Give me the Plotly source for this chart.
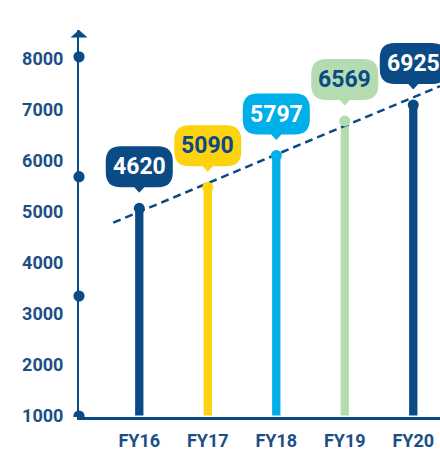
import plotly.graph_objects as go

# ---- data ----
categories = ["FY16", "FY17", "FY18", "FY19", "FY20"]
values = [4620, 5090, 5797, 6569, 6925]
bar_colors = ["#0a4a85", "#fdd20e", "#00aeea", "#b5dbb1", "#0a4a85"]
label_text_colors = ["#ffffff", "#0a4a85", "#ffffff", "#0a4a85", "#ffffff"]
axis_tick_values = [1000, 2000, 3000, 4000, 5000, 6000, 7000, 8000]
axis_dot_values = [1000, 3350, 5690, 8040]
trend_x = [-0.38, 4.39]
trend_y = [4300, 7345]

DARK = "#0a4a85"
TICK = "#1c4f86"
FONT = "Roboto, Liberation Sans, Arial, sans-serif"

idx = list(range(len(categories)))

fig = go.Figure()
fig.add_trace(go.Bar(x=idx, y=values, width=0.121, marker=dict(color=bar_colors, line=dict(width=0)),
                     hoverinfo="skip", showlegend=False))
fig.add_trace(go.Scatter(x=trend_x, y=trend_y, mode="lines",
                         line=dict(color=DARK, width=2.5, dash="8px,5px"),
                         hoverinfo="skip", showlegend=False))
fig.add_trace(go.Scatter(x=idx, y=values, mode="markers",
                         marker=dict(color=bar_colors, size=11, line=dict(width=0)),
                         hoverinfo="skip", showlegend=False))


def bubble_path(w=67, h=41, r=15, bot=21, pw=10, tip=15.5):
    L, R, B, T = -w / 2, w / 2, bot, bot + h
    return (f"M {pw/2},{B} L {R-r},{B} Q {R},{B} {R},{B+r} L {R},{T-r} Q {R},{T} {R-r},{T} "
            f"L {L+r},{T} Q {L},{T} {L},{T-r} L {L},{B+r} Q {L},{B} {L+r},{B} "
            f"L {-pw/2},{B} L 0,{tip} Z")


shapes = []
for i, v, c in zip(idx, values, bar_colors):
    shapes.append(dict(type="path", xref="x", yref="y", xsizemode="pixel", ysizemode="pixel",
                       xanchor=i, yanchor=v, path=bubble_path(), fillcolor=c,
                       line=dict(width=0), layer="above"))
# axis decorations
for d in axis_dot_values:
    shapes.append(dict(type="circle", xref="paper", yref="y2", xsizemode="pixel", ysizemode="pixel",
                       xanchor=0, yanchor=d, x0=-5.6, x1=5.6, y0=-5.6, y1=5.6,
                       fillcolor=DARK, line=dict(width=0), layer="above"))
shapes.append(dict(type="path", xref="paper", yref="paper", xsizemode="pixel", ysizemode="pixel",
                   xanchor=0, yanchor=1, path="M -8.5,-7.5 L 8.5,-7.5 L 0,0 Z",
                   fillcolor=DARK, line=dict(width=0), layer="above"))

annotations = []
for i, v, tc in zip(idx, values, label_text_colors):
    annotations.append(dict(x=i, y=v, xref="x", yref="y", text=str(v), showarrow=False,
                            yshift=41.5, font=dict(family=FONT, size=23, color=tc, weight="bold")))

fig.update_layout(
    width=440, height=452,
    margin=dict(l=79, r=0, t=30, b=35, autoexpand=False),
    paper_bgcolor="white", plot_bgcolor="white",
    shapes=shapes, annotations=annotations,
    xaxis=dict(range=[-0.88, 4.39], tickvals=idx, ticktext=categories, showgrid=False,
               zeroline=False, showline=True, linecolor=DARK, linewidth=2.5, ticks="",
               ticklabelstandoff=6, automargin=False,
               tickfont=dict(family=FONT, size=18, color=TICK, weight="bold")),
    yaxis=dict(range=[-36, 8598], visible=False, showgrid=False, zeroline=False),
    yaxis2=dict(range=[980, 8565], overlaying="y", side="left", anchor="x",
                tickvals=axis_tick_values, showgrid=False, zeroline=False,
                showline=True, linecolor=DARK, linewidth=2, ticks="",
                ticklabelstandoff=10, automargin=False,
                tickfont=dict(family=FONT, size=18, color=TICK, weight="bold")),
)
# attach an invisible trace to yaxis2 so it renders
fig.add_trace(go.Scatter(x=[None], y=[None], yaxis="y2", showlegend=False, hoverinfo="skip"))

fig.write_html("out.html", config={"displayModeBar": False},
               post_script="document.body.style.margin='0';")
